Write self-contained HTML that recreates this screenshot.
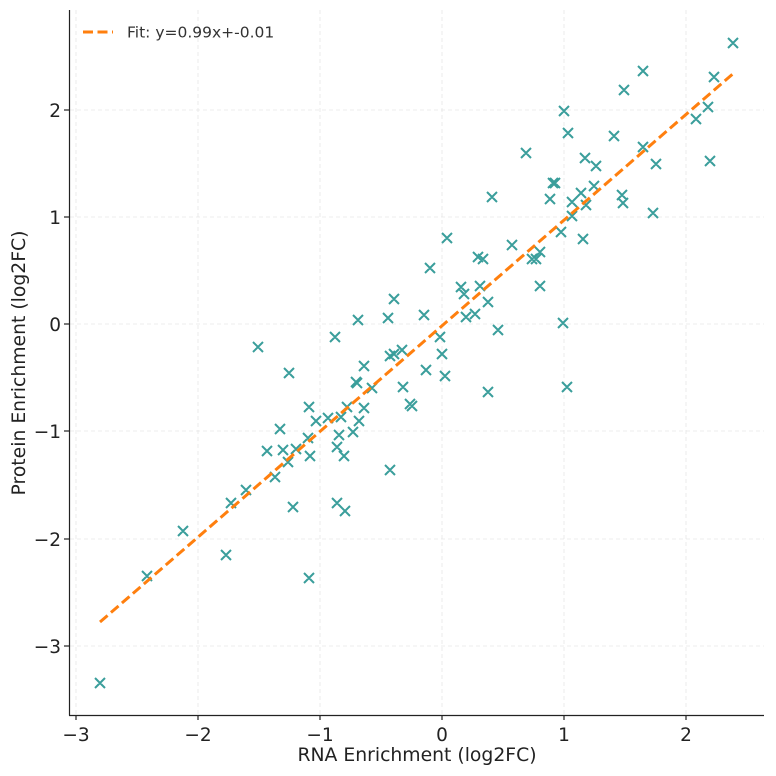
<!DOCTYPE html>
<html><head><meta charset="utf-8"><style>body{margin:0;background:#fff}svg{display:block;font-family:"DejaVu Sans","Liberation Sans",sans-serif}</style></head>
<body>
<svg width="776" height="776" viewBox="0 0 776 776">
<g stroke="#e6e6e6" stroke-dasharray="4,3" stroke-width="0.8">
<line x1="76" y1="10" x2="76" y2="715"/><line x1="198" y1="10" x2="198" y2="715"/><line x1="320" y1="10" x2="320" y2="715"/><line x1="442" y1="10" x2="442" y2="715"/><line x1="564" y1="10" x2="564" y2="715"/><line x1="686" y1="10" x2="686" y2="715"/>
<line x1="70" y1="110" x2="764" y2="110"/><line x1="70" y1="217" x2="764" y2="217"/><line x1="70" y1="324" x2="764" y2="324"/><line x1="70" y1="431" x2="764" y2="431"/><line x1="70" y1="539" x2="764" y2="539"/><line x1="70" y1="646" x2="764" y2="646"/>
</g>
<path stroke="#3a9e9b" stroke-width="2" fill="none" d="M728 38l10 10m-10 0l10-10M638 66l10 10m-10 0l10-10M709 72l10 10m-10 0l10-10M619 85l10 10m-10 0l10-10M559 106l10 10m-10 0l10-10M703 102l10 10m-10 0l10-10M563 128l10 10m-10 0l10-10M521 148l10 10m-10 0l10-10M609 131l10 10m-10 0l10-10M691 114l10 10m-10 0l10-10M580 153l10 10m-10 0l10-10M591 161l10 10m-10 0l10-10M638 142l10 10m-10 0l10-10M705 156l10 10m-10 0l10-10M651 159l10 10m-10 0l10-10M548 178l10 10m-10 0l10-10M550 178l10 10m-10 0l10-10M545 194l10 10m-10 0l10-10M576 188l10 10m-10 0l10-10M589 181l10 10m-10 0l10-10M567 197l10 10m-10 0l10-10M581 200l10 10m-10 0l10-10M617 190l10 10m-10 0l10-10M618 198l10 10m-10 0l10-10M487 192l10 10m-10 0l10-10M648 208l10 10m-10 0l10-10M567 211l10 10m-10 0l10-10M556 227l10 10m-10 0l10-10M578 234l10 10m-10 0l10-10M442 233l10 10m-10 0l10-10M507 240l10 10m-10 0l10-10M473 252l10 10m-10 0l10-10M478 254l10 10m-10 0l10-10M535 247l10 10m-10 0l10-10M527 254l10 10m-10 0l10-10M531 254l10 10m-10 0l10-10M425 263l10 10m-10 0l10-10M456 282l10 10m-10 0l10-10M459 289l10 10m-10 0l10-10M475 281l10 10m-10 0l10-10M535 281l10 10m-10 0l10-10M389 294l10 10m-10 0l10-10M419 310l10 10m-10 0l10-10M483 297l10 10m-10 0l10-10M470 309l10 10m-10 0l10-10M461 312l10 10m-10 0l10-10M493 325l10 10m-10 0l10-10M383 313l10 10m-10 0l10-10M353 315l10 10m-10 0l10-10M558 318l10 10m-10 0l10-10M330 332l10 10m-10 0l10-10M253 342l10 10m-10 0l10-10M435 332l10 10m-10 0l10-10M437 349l10 10m-10 0l10-10M397 345l10 10m-10 0l10-10M389 349l10 10m-10 0l10-10M385 351l10 10m-10 0l10-10M359 361l10 10m-10 0l10-10M284 368l10 10m-10 0l10-10M421 365l10 10m-10 0l10-10M351 377l10 10m-10 0l10-10M440 371l10 10m-10 0l10-10M398 382l10 10m-10 0l10-10M562 382l10 10m-10 0l10-10M483 387l10 10m-10 0l10-10M262 446l10 10m-10 0l10-10M275 424l10 10m-10 0l10-10M278 445l10 10m-10 0l10-10M291 444l10 10m-10 0l10-10M283 457l10 10m-10 0l10-10M303 433l10 10m-10 0l10-10M305 451l10 10m-10 0l10-10M304 402l10 10m-10 0l10-10M311 416l10 10m-10 0l10-10M323 413l10 10m-10 0l10-10M336 412l10 10m-10 0l10-10M342 402l10 10m-10 0l10-10M359 403l10 10m-10 0l10-10M354 416l10 10m-10 0l10-10M348 427l10 10m-10 0l10-10M334 430l10 10m-10 0l10-10M332 442l10 10m-10 0l10-10M339 451l10 10m-10 0l10-10M352 378l10 10m-10 0l10-10M367 383l10 10m-10 0l10-10M407 401l10 10m-10 0l10-10M405 399l10 10m-10 0l10-10M385 465l10 10m-10 0l10-10M270 472l10 10m-10 0l10-10M288 502l10 10m-10 0l10-10M332 498l10 10m-10 0l10-10M340 506l10 10m-10 0l10-10M241 485l10 10m-10 0l10-10M226 498l10 10m-10 0l10-10M178 526l10 10m-10 0l10-10M221 550l10 10m-10 0l10-10M142 571l10 10m-10 0l10-10M304 573l10 10m-10 0l10-10M95 678l10 10m-10 0l10-10"/>
<line x1="100" y1="622" x2="735" y2="72" stroke="#ff7f0e" stroke-width="3" stroke-dasharray="10,4.5"/>
<g stroke="#222" stroke-width="1.2">
<line x1="69.5" y1="10" x2="69.5" y2="715.5"/><line x1="69" y1="715.5" x2="764" y2="715.5"/>
<line x1="76" y1="715" x2="76" y2="720"/><line x1="198" y1="715" x2="198" y2="720"/><line x1="320" y1="715" x2="320" y2="720"/><line x1="442" y1="715" x2="442" y2="720"/><line x1="564" y1="715" x2="564" y2="720"/><line x1="686" y1="715" x2="686" y2="720"/>
<line x1="64" y1="110" x2="69" y2="110"/><line x1="64" y1="217" x2="69" y2="217"/><line x1="64" y1="324" x2="69" y2="324"/><line x1="64" y1="431" x2="69" y2="431"/><line x1="64" y1="539" x2="69" y2="539"/><line x1="64" y1="646" x2="69" y2="646"/>
</g>
<g font-size="18.5" fill="#222" text-anchor="middle">
<text x="76" y="741">−3</text><text x="198" y="741">−2</text><text x="320" y="741">−1</text><text x="442" y="741">0</text><text x="564" y="741">1</text><text x="686" y="741">2</text>
</g>
<g font-size="18.5" fill="#222" text-anchor="end">
<text x="61" y="117">2</text><text x="61" y="224">1</text><text x="61" y="331">0</text><text x="61" y="438">−1</text><text x="61" y="546">−2</text><text x="61" y="653">−3</text>
</g>
<text x="417" y="761" font-size="18.8" fill="#222" text-anchor="middle">RNA Enrichment (log2FC)</text>
<text transform="translate(25,363) rotate(-90)" font-size="18.8" fill="#222" text-anchor="middle">Protein Enrichment (log2FC)</text>
<line x1="83" y1="32" x2="113" y2="32" stroke="#ff7f0e" stroke-width="3" stroke-dasharray="10,4.5"/>
<text x="127" y="37.5" font-size="15.5" fill="#333">Fit: y=0.99x+-0.01</text>
</svg>
</body></html>
